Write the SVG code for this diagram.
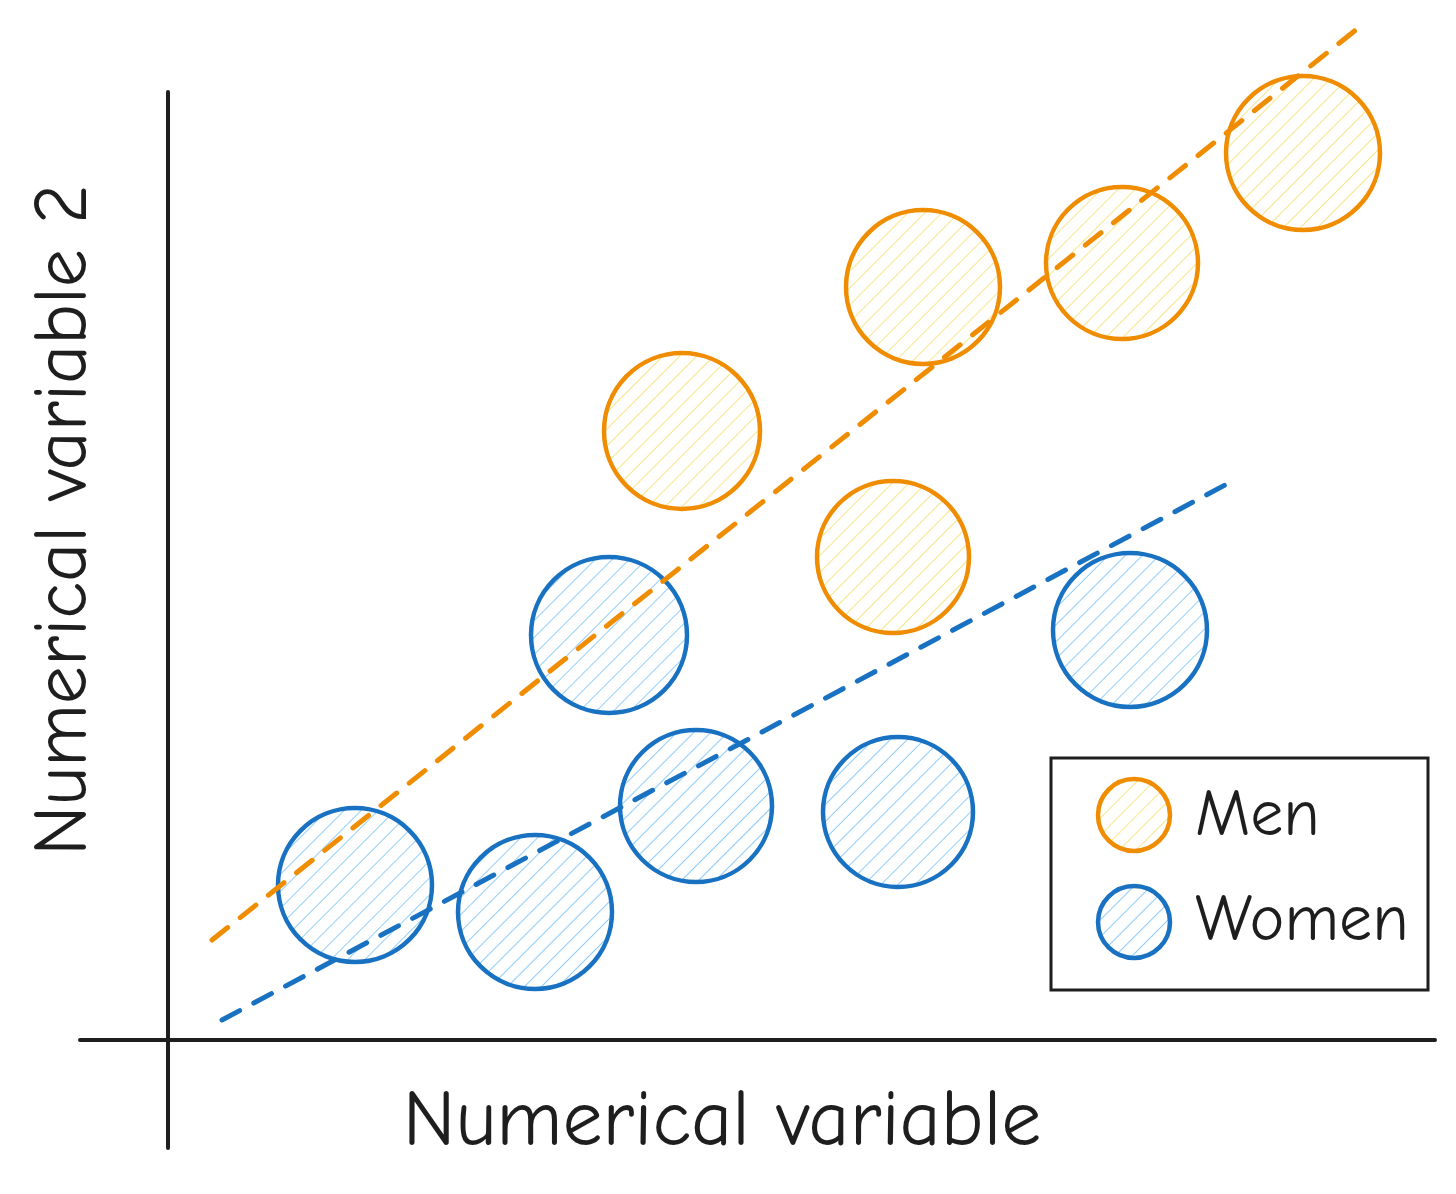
<svg xmlns="http://www.w3.org/2000/svg" width="1456" height="1194" viewBox="0 0 1456 1194">
<defs>
<pattern id="hy" patternUnits="userSpaceOnUse" width="12" height="12" patternTransform="rotate(45)"><line x1="0" y1="0" x2="0" y2="12" stroke="#f5de6a" stroke-width="1.6"/></pattern>
<pattern id="hb" patternUnits="userSpaceOnUse" width="12" height="12" patternTransform="rotate(45)"><line x1="0" y1="0" x2="0" y2="12" stroke="#74c0fc" stroke-width="1.6"/></pattern>
<style>
.m{fill:url(#hy);stroke:#f08c00;stroke-width:4.5}
.w{fill:url(#hb);stroke:#1971c2;stroke-width:4.5}
.ax{stroke:#1e1e1e;stroke-width:4;fill:none;stroke-linecap:round}
.t{font-family:"Comic Neue","Liberation Sans",sans-serif;fill:#1e1e1e}
</style>
</defs>
<rect width="1456" height="1194" fill="#fff"/>
<g id="axes">
<line class="ax" x1="168" y1="92" x2="168" y2="1148"/>
<line class="ax" x1="80" y1="1040" x2="1435" y2="1040"/>
<text class="t" x="722" y="1145" font-size="80" text-anchor="middle">Numerical variable</text>
<text class="t" transform="translate(86,520) rotate(-90)" font-size="76" text-anchor="middle">Numerical variable 2</text>
</g>
<g id="men">
<circle class="m" cx="923" cy="287" r="77"/>
<circle class="m" cx="1122" cy="263" r="76"/>
<circle class="m" cx="1303" cy="153" r="77"/>
<circle class="m" cx="682" cy="431" r="78"/>
<circle class="m" cx="893" cy="557" r="76"/>
</g>
<g id="women">
<circle class="w" cx="609" cy="635" r="78"/>
<circle class="w" cx="355" cy="885" r="77"/>
<circle class="w" cx="535" cy="912" r="77"/>
<circle class="w" cx="696" cy="806" r="76"/>
<circle class="w" cx="898" cy="812" r="75"/>
<circle class="w" cx="1130" cy="630" r="77"/>
</g>
<g id="connectors">
<line x1="212" y1="940" x2="1362" y2="25" stroke="#f08c00" stroke-width="5" stroke-dasharray="20 16" stroke-linecap="round"/>
<line x1="222" y1="1020" x2="1225" y2="485" stroke="#1971c2" stroke-width="5" stroke-dasharray="20 16" stroke-linecap="round"/>
</g>
<g id="legend">
<rect x="1051" y="758" width="377" height="232" fill="none" stroke="#1e1e1e" stroke-width="3"/>
<circle class="m" cx="1134" cy="815" r="36"/>
<circle class="w" cx="1134" cy="922" r="36"/>
<text class="t" x="1195" y="835" font-size="66">Men</text>
<text class="t" x="1195" y="940" font-size="66">Women</text>
</g>
</svg>
